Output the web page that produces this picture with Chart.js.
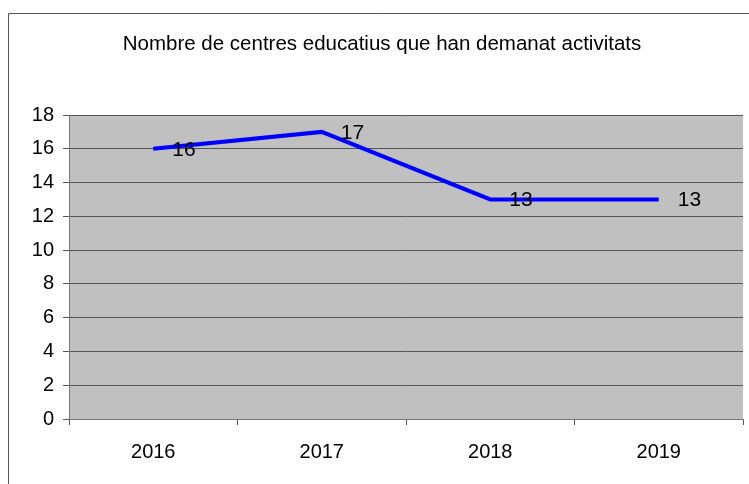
<!DOCTYPE html>
<html lang="ca">
<head>
    <meta charset="UTF-8">
    <title>Nombre de centres educatius</title>
    <script src="https://cdn.jsdelivr.net/npm/chart.js"></script>
    <style>
        body { margin: 0; padding: 0; background: #fff; }
        .container { width: 749px; height: 484px; }
    </style>
</head>
<body>
    <div class="container">
        <canvas id="chart" width="749" height="484"></canvas>
    </div>

    <script>
        const chartTitle = 'Nombre de centres educatius que han demanat activitats';
        const years = ["2016", "2017", "2018", "2019"];
        const centres = [16, 17, 13, 13];
        const yTicks = [0, 2, 4, 6, 8, 10, 12, 14, 16, 18];

        const fontFamily = "Arial, 'Liberation Sans', sans-serif";

        // frame, title, grey plot area and value labels
        const decor = {
            id: 'decor',
            beforeDraw(chart) {
                const c = chart.ctx, a = chart.chartArea;
                c.save();
                c.fillStyle = '#fff';
                c.fillRect(0, 0, chart.width, chart.height);
                c.strokeStyle = '#555';
                c.lineWidth = 1;
                c.beginPath();
                c.moveTo(chart.width, 13.5);
                c.lineTo(8.5, 13.5);
                c.lineTo(8.5, chart.height);
                c.stroke();
                c.fillStyle = '#c0c0c0';
                c.fillRect(a.left, a.top, a.right - a.left, a.bottom - a.top);
                // title is centred in the frame, not in the canvas
                c.font = "20.5px " + fontFamily;
                c.fillStyle = '#000';
                c.textAlign = 'center';
                c.textBaseline = 'middle';
                c.fillText(chartTitle, 382, 44);
                c.restore();
            },
            afterDatasetsDraw(chart) {
                const c = chart.ctx;
                const meta = chart.getDatasetMeta(0);
                c.save();
                c.font = "21px " + fontFamily;
                c.fillStyle = '#000';
                c.textAlign = 'left';
                c.textBaseline = 'middle';
                meta.data.forEach((pt, i) => {
                    c.fillText(centres[i], pt.x + 19, pt.y + 1);
                });
                c.restore();
            }
        };

        new Chart(document.getElementById('chart'), {
            type: 'line',
            data: {
                labels: years,
                datasets: [{
                    data: centres,
                    borderColor: '#0000ff',
                    borderWidth: 4,
                    pointRadius: 0,
                    tension: 0,
                    fill: false
                }]
            },
            options: {
                responsive: false,
                animation: false,
                layout: { padding: { top: 115, right: 6, bottom: 0, left: 0 } },
                plugins: {
                    legend: { display: false },
                    tooltip: { enabled: false },
                    title: { display: false }
                },
                scales: {
                    x: {
                        offset: true,
                        afterFit(s) { s.height = 65; },
                        grid: {
                            offset: true,
                            drawOnChartArea: false,
                            drawTicks: true,
                            tickLength: 6,
                            color: '#555'
                        },
                        border: { display: true, color: '#777' },
                        ticks: {
                            color: '#000',
                            padding: 15,
                            font: { family: fontFamily, size: 20 }
                        }
                    },
                    y: {
                        min: 0,
                        max: 18,
                        afterFit(s) { s.width = 69; },
                        afterBuildTicks(s) { s.ticks = yTicks.map(v => ({ value: v })); },
                        grid: {
                            color: '#555',
                            tickLength: 6
                        },
                        border: { display: true, color: '#777' },
                        ticks: {
                            color: '#000',
                            padding: 9,
                            font: { family: fontFamily, size: 20 }
                        }
                    }
                }
            },
            plugins: [decor]
        });
    </script>
</body>
</html>
